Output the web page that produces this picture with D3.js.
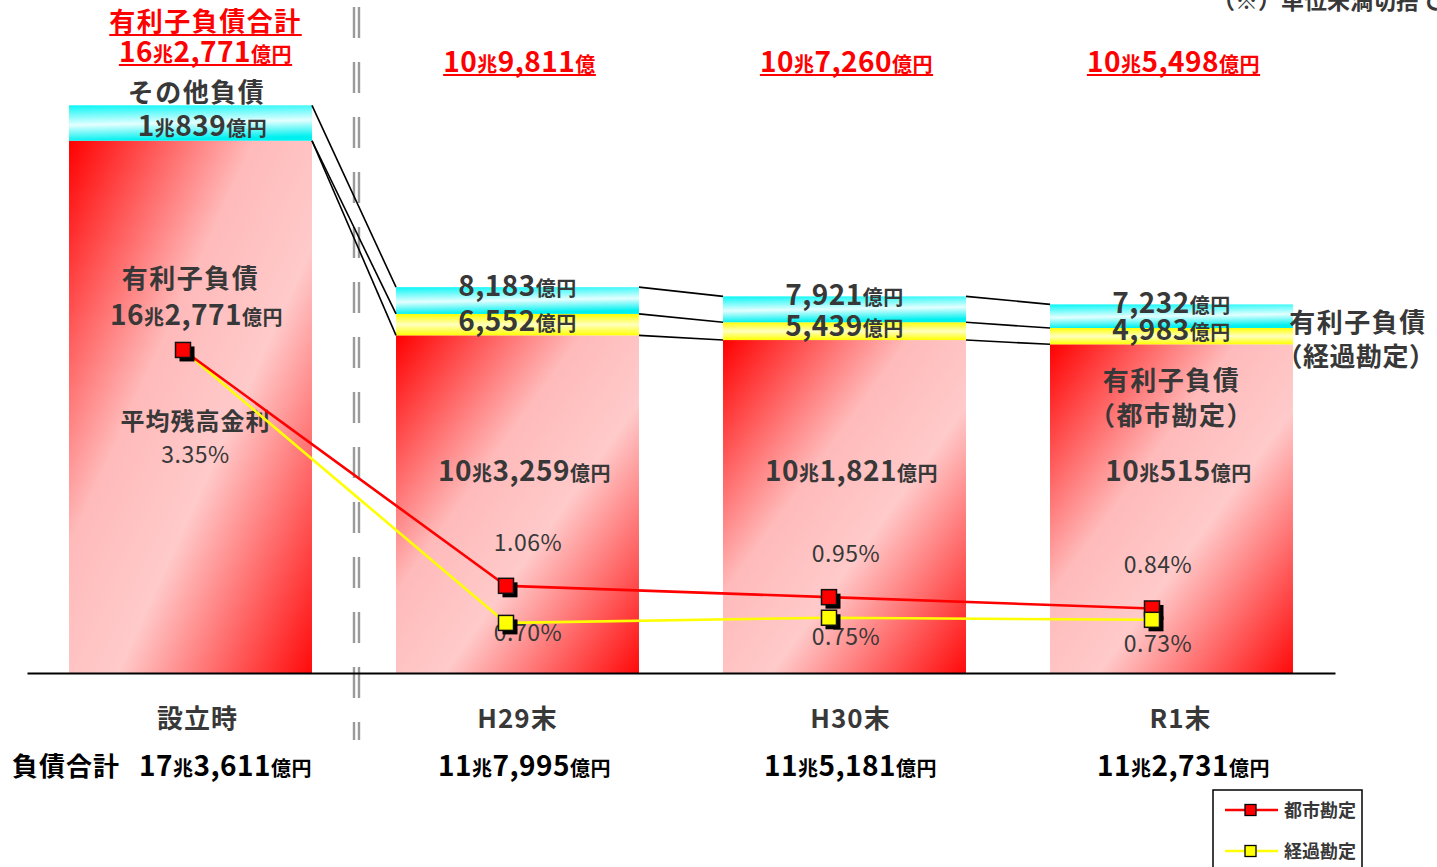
<!DOCTYPE html>
<html><head><meta charset="utf-8">
<script src="https://cdn.jsdelivr.net/npm/d3@7"></script>
<style>
body{margin:0;background:#fff;overflow:hidden}
svg{display:block}
text{font-family:"Noto Sans CJK JP","Noto Sans",sans-serif}
</style>
</head><body>
<svg id="c" width="1437" height="867"></svg>
<script>
// ---- data (億円, %) ----
const categories = ["設立時", "H29末", "H30末", "R1末"];
const cityDebt = [162771, 103259, 101821, 100515];      // 有利子負債（都市勘定）
const transDebt = [0, 6552, 5439, 4983];                // 有利子負債（経過勘定）
const otherDebt = [10839, 8183, 7921, 7232];            // その他負債
const interestTotal = [162771, 109811, 107260, 105498]; // 有利子負債合計
const interestTotalUnit = ["億円", "億", "億円", "億円"];
const liabilityTotal = [173611, 117995, 115181, 112731];// 負債合計
const rateCity = [3.35, 1.06, 0.95, 0.84];
const rateTrans = [3.35, 0.70, 0.75, 0.73];
const legendLabels = ["都市勘定", "経過勘定"];

// ---- layout ----
const svg = d3.select("#c");
const DARK = "#383838";
const x = d3.scaleBand().domain(categories).range([27, 1335]).paddingInner(0.257).paddingOuter(0.1285);
const y = d3.scaleLinear().domain([0, 200000]).range([673, 19]);
const yr = d3.scaleLinear().domain([0, 4]).range([695, 283]);
const xr = d3.scalePoint().domain(categories).range([183, 1152]);
const bw = x.bandwidth();
const cx = c => x(c) + bw / 2;

// gradients
const defs = svg.append("defs");
function grad(id, stops, x2, y2) {
  const g = defs.append("linearGradient").attr("id", id)
    .attr("x1", 0).attr("y1", 0).attr("x2", x2).attr("y2", y2);
  stops.forEach(s => g.append("stop").attr("offset", s[0]).attr("stop-color", s[1]));
}
grad("gRed", [[0, "#ff0000"], [0.38, "#ffbaba"], [0.6, "#ffcaca"], [1, "#ff0a0a"]], 1, 1);
grad("gCyan", [[0, "#08f6f6"], [0.55, "#e4ffff"], [1, "#00f0f0"]], 0.15, 1);
grad("gYel", [[0, "#ffff00"], [0.5, "#ffffc0"], [1, "#ffff00"]], 0, 1);

// separator (double dashed gray)
[354, 359].forEach(sx => svg.append("line")
  .attr("x1", sx).attr("x2", sx).attr("y1", 7).attr("y2", 740)
  .attr("stroke", "#9a9a9a").attr("stroke-width", 2.4).attr("stroke-dasharray", "31 24"));

// bars
categories.forEach((c, i) => {
  const g = svg.append("g");
  const b0 = cityDebt[i], b1 = b0 + transDebt[i], b2 = b1 + otherDebt[i];
  g.append("rect").attr("x", x(c)).attr("width", bw).attr("y", y(b0)).attr("height", y(0) - y(b0)).attr("fill", "url(#gRed)");
  if (transDebt[i] > 0)
    g.append("rect").attr("x", x(c)).attr("width", bw).attr("y", y(b1)).attr("height", y(b0) - y(b1)).attr("fill", "url(#gYel)");
  g.append("rect").attr("x", x(c)).attr("width", bw).attr("y", y(b2)).attr("height", y(b1) - y(b2)).attr("fill", "url(#gCyan)");
});

// connector lines
for (let i = 0; i < categories.length - 1; i++) {
  const lv = j => [cityDebt[j] + transDebt[j] + otherDebt[j], cityDebt[j] + transDebt[j], cityDebt[j]];
  const a = lv(i), b = lv(i + 1);
  a.forEach((v, k) => svg.append("line")
    .attr("x1", x(categories[i]) + bw).attr("y1", y(v))
    .attr("x2", x(categories[i + 1])).attr("y2", y(b[k]))
    .attr("stroke", "#000").attr("stroke-width", 1.6));
}

// axis (baseline + category labels)
const ax = svg.append("g").attr("transform", "translate(0,673)")
  .call(d3.axisBottom(x).tickSize(0).tickSizeOuter(0));
ax.select(".domain").attr("stroke", "#000").attr("stroke-width", 2);
ax.selectAll("text").attr("y", 55).attr("dy", null)
  .attr("font-size", 26).attr("font-weight", 700).attr("fill", DARK)
  .attr("letter-spacing", 1);
ax.selectAll(".tick").attr("transform", (d, i) => `translate(${cx(d) + [7, 0, 6, 9][i]},0)`);

// amount text helper
function amount(sel, v, unit, big, small) {
  const cho = Math.floor(v / 10000), oku = v % 10000;
  if (cho > 0) {
    sel.append("tspan").attr("font-size", big).text(cho);
    sel.append("tspan").attr("font-size", small).text("兆");
  }
  if (oku > 0 || cho === 0) sel.append("tspan").attr("font-size", big).text(d3.format(",")(oku));
  sel.append("tspan").attr("font-size", small).text(unit);
  return sel;
}
function label(tx, ty, opts = {}) {
  return svg.append("text").attr("x", tx).attr("y", ty).attr("text-anchor", opts.anchor || "middle")
    .attr("font-size", opts.size || 26).attr("font-weight", opts.weight || 700)
    .attr("fill", opts.fill || DARK).attr("letter-spacing", opts.ls == null ? 0.5 : opts.ls);
}
function underline(t, uy) {
  const bb = t.node().getBBox();
  svg.append("line").attr("x1", bb.x).attr("x2", bb.x + bb.width).attr("y1", uy).attr("y2", uy)
    .attr("stroke", "#ff0000").attr("stroke-width", 2);
}

// ---- texts for 設立時 ----
const c0 = categories[0];
let t = label(cx(c0) + 15, 31, { fill: "#ff0000", ls: 1.5 }).text("有利子負債合計");
underline(t, 35);
t = amount(label(cx(c0) + 15, 62, { fill: "#ff0000", ls: 0.5 }), interestTotal[0], interestTotalUnit[0], 28, 20);
underline(t, 65);
label(cx(c0) + 6, y(cityDebt[0] + otherDebt[0]) - 3, { ls: 1.5 }).text("その他負債");
amount(label(cx(c0) + 12, y(cityDebt[0]) - 5), otherDebt[0], "億円", 28, 20);
label(cx(c0), 288, { ls: 1.5 }).text("有利子負債");
amount(label(cx(c0) + 6, 325), cityDebt[0], "億円", 28, 20);
label(cx(c0) + 5, 430, { size: 24, ls: 1 }).text("平均残高金利");
label(cx(c0) + 5, 463, { size: 23, weight: 400 }).text(d3.format(".2f")(rateCity[0]) + "%");

// ---- texts for other periods ----
const trDy = [0, 0, 9, 14];
const rateDx = [0, 22, 17, 6];
categories.forEach((c, i) => {
  if (i === 0) return;
  const tot = cityDebt[i] + transDebt[i] + otherDebt[i];
  const tt = amount(label(cx(c) + 2, 72, { fill: "#ff0000" }), interestTotal[i], interestTotalUnit[i], 28, 20);
  underline(tt, 75);
  amount(label(cx(c), y(tot) + 9), otherDebt[i], "億円", 28, 20);
  amount(label(cx(c), y(cityDebt[i]) - 4), transDebt[i], "億円", 28, 20);
  amount(label(cx(c) + 7, 481), cityDebt[i], "億円", 28, 20);
  label(xr(c) + rateDx[i], yr(rateCity[i]) - 35, { size: 23, weight: 400 }).text(d3.format(".2f")(rateCity[i]) + "%");
  label(xr(c) + rateDx[i], yr(rateTrans[i]) + 18 + trDy[i], { size: 23, weight: 400 }).text(d3.format(".2f")(rateTrans[i]) + "%");
});
// R1 inside label
const cl = categories[3];
label(cx(cl), 390, { ls: 1.5 }).text("有利子負債");
label(cx(cl), 425, { ls: 1.5 }).text("（都市勘定）");
// right-side label
label(1358, 332, { ls: 1.5 }).text("有利子負債");
label(1356, 366, { ls: 0.5 }).text("（経過勘定）");

// bottom totals
label(12, 776, { anchor: "start", fill: "#000", ls: 1 }).text("負債合計");
categories.forEach((c, i) => {
  amount(label(cx(c) + [35, 7, 6, 12][i], 776, { fill: "#000" }), liabilityTotal[i], "億円", 28, 20);
});

// note (clipped at top)
label(1212, 9, { anchor: "start", size: 23, ls: 0 }).text("（※）単位未満切捨て");

// ---- rate lines ----
const line = d3.line().x((d, i) => xr(categories[i])).y(d => yr(d));
svg.append("path").datum(rateTrans).attr("d", line).attr("fill", "none").attr("stroke", "#ffff00").attr("stroke-width", 2.6);
svg.append("path").datum(rateCity).attr("d", line).attr("fill", "none").attr("stroke", "#ff0000").attr("stroke-width", 2.6);
function markers(vals, color, skipFirst) {
  vals.forEach((v, i) => {
    if (skipFirst && i === 0) return;
    const mx = xr(categories[i]), my = yr(v), s = 15;
    svg.append("rect").attr("x", mx - s / 2 + 4).attr("y", my - s / 2 + 4).attr("width", s).attr("height", s).attr("fill", "#000");
    svg.append("rect").attr("x", mx - s / 2).attr("y", my - s / 2).attr("width", s).attr("height", s)
      .attr("fill", color).attr("stroke", "#111").attr("stroke-width", 1.5);
  });
}
markers(rateCity, "#ff0000", false);
markers(rateTrans, "#ffff00", true);

// ---- legend ----
const lg = svg.append("g");
lg.append("rect").attr("x", 1213).attr("y", 790).attr("width", 149).attr("height", 100)
  .attr("fill", "#fff").attr("stroke", "#000").attr("stroke-width", 1.5);
[["#ff0000", 810], ["#ffff00", 851]].forEach((d, i) => {
  lg.append("line").attr("x1", 1225).attr("x2", 1278).attr("y1", d[1]).attr("y2", d[1]).attr("stroke", d[0]).attr("stroke-width", 2.5);
  lg.append("rect").attr("x", 1245).attr("y", d[1] - 5.5).attr("width", 11).attr("height", 11)
    .attr("fill", d[0]).attr("stroke", "#000").attr("stroke-width", 1.3);
  lg.append("text").attr("x", 1284).attr("y", d[1] + 7).attr("font-size", 18).attr("font-weight", 700)
    .attr("fill", DARK).text(legendLabels[i]);
});
</script>
</body></html>
